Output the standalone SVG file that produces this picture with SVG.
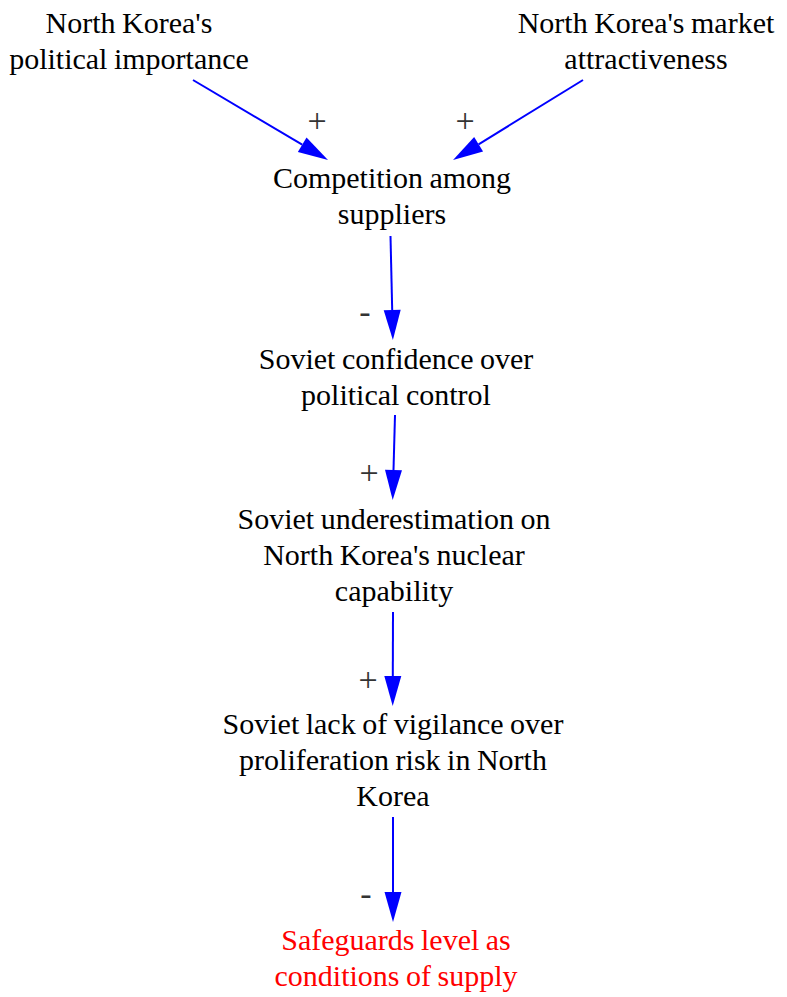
<svg xmlns="http://www.w3.org/2000/svg" width="787" height="997" viewBox="0 0 787 997">
<style>
  .n { font-family: 'Liberation Serif', 'Times New Roman', serif; font-size: 30px; fill: #000; text-anchor: middle; word-spacing: -1px; }
  .r { fill: #ff0000; }
  .lbl { font-family: 'Liberation Serif', 'Times New Roman', serif; font-size: 34px; fill: #333; text-anchor: middle; }
  .e { stroke: #0000ff; stroke-width: 2; fill: none; }
</style>
<defs>
  <marker id="ah" markerUnits="userSpaceOnUse" markerWidth="31" markerHeight="18" refX="0" refY="8.5" orient="auto" overflow="visible">
    <path d="M0,0 L30,8.5 L0,17 Z" fill="#0000ff"/>
  </marker>
</defs>
<rect width="787" height="997" fill="#ffffff"/>
<g id="connectors">
  <line class="e" x1="193" y1="80" x2="302.2" y2="144.7" marker-end="url(#ah)"/>
  <line class="e" x1="583" y1="80" x2="478.6" y2="144.3" marker-end="url(#ah)"/>
  <line class="e" x1="390.5" y1="236" x2="392.2" y2="310" marker-end="url(#ah)"/>
  <line class="e" x1="395" y1="415" x2="393.5" y2="470" marker-end="url(#ah)"/>
  <line class="e" x1="393" y1="612" x2="392.8" y2="676" marker-end="url(#ah)"/>
  <line class="e" x1="393" y1="817" x2="393" y2="892" marker-end="url(#ah)"/>
  <text class="lbl" x="317" y="131.5">+</text>
  <text class="lbl" x="465" y="131.5">+</text>
  <text class="lbl" x="365" y="322.5">-</text>
  <text class="lbl" x="369" y="483.5">+</text>
  <text class="lbl" x="368" y="690.5">+</text>
  <text class="lbl" x="366" y="904.5">-</text>
</g>
<g id="node-political-importance">
  <text class="n" x="129" y="33">North Korea's</text>
  <text class="n" x="129" y="69">political importance</text>
</g>
<g id="node-market-attractiveness">
  <text class="n" x="646" y="33">North Korea's market</text>
  <text class="n" x="646" y="69">attractiveness</text>
</g>
<g id="node-competition">
  <text class="n" x="392" y="188">Competition among</text>
  <text class="n" x="392" y="224">suppliers</text>
</g>
<g id="node-confidence">
  <text class="n" x="396" y="369">Soviet confidence over</text>
  <text class="n" x="396" y="405">political control</text>
</g>
<g id="node-underestimation">
  <text class="n" x="394" y="529">Soviet underestimation on</text>
  <text class="n" x="394" y="565">North Korea's nuclear</text>
  <text class="n" x="394" y="601">capability</text>
</g>
<g id="node-vigilance">
  <text class="n" x="393" y="734">Soviet lack of vigilance over</text>
  <text class="n" x="393" y="770">proliferation risk in North</text>
  <text class="n" x="393" y="806">Korea</text>
</g>
<g id="node-safeguards">
  <text class="n r" x="396" y="950">Safeguards level as</text>
  <text class="n r" x="396" y="986">conditions of supply</text>
</g>
</svg>
